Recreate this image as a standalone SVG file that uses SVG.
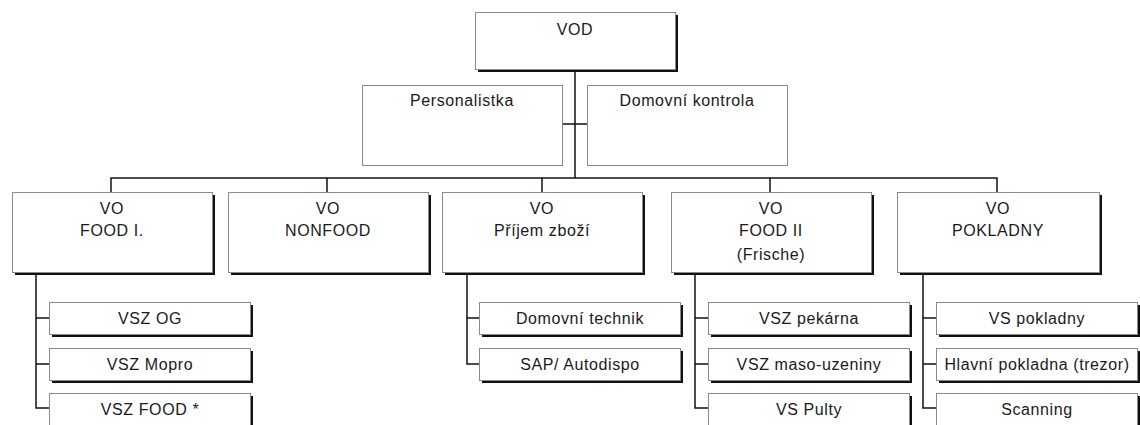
<svg xmlns="http://www.w3.org/2000/svg" width="1140" height="425" viewBox="0 0 1140 425">
<style>
.sh{fill:#111}
.bx{fill:#fff;stroke:#8a8a8a;stroke-width:1}
.t{font-family:"Liberation Sans",Arial,sans-serif;font-size:16px;letter-spacing:0.6px;fill:#1a1a1a;text-anchor:middle}
.c{fill:none;stroke:#111;stroke-width:1.5}
</style>
<rect width="1140" height="425" fill="#fff"/>
<g id="connectors">
<path class="c" d="M575 69V178M562 124H587M111 192V178H997V192M327 178V192M542 178V192M770 178V192"/>
<path class="c" d="M36 272V408H49M36 318H49M36 364H49"/>
<path class="c" d="M467 272V364H479M467 318H479"/>
<path class="c" d="M695 272V408H708M695 318H708M695 364H708"/>
<path class="c" d="M923 272V408H936M923 318H936M923 364H936"/>
</g>
<g id="vod"><rect class="sh" x="478" y="15" width="200" height="57"/><rect class="bx" x="475.5" y="12.5" width="200" height="57"/><text class="t" x="575" y="35">VOD</text></g>
<g id="personalistka"><rect class="bx" x="362.5" y="85.5" width="200" height="80"/><text class="t" x="462" y="106">Personalistka</text></g>
<g id="domovni-kontrola"><rect class="bx" x="587.5" y="85.5" width="200" height="80"/><text class="t" x="687" y="106">Domovní kontrola</text></g>
<g id="vo-food1"><rect class="sh" x="15" y="195" width="200" height="80"/><rect class="bx" x="12.5" y="192.5" width="200" height="80"/><text class="t" x="112" y="214">VO</text><text class="t" x="112" y="236">FOOD I.</text></g>
<g id="vo-nonfood"><rect class="sh" x="231" y="195" width="200" height="80"/><rect class="bx" x="228.5" y="192.5" width="200" height="80"/><text class="t" x="328" y="214">VO</text><text class="t" x="328" y="236">NONFOOD</text></g>
<g id="vo-prijem"><rect class="sh" x="445" y="195" width="200" height="80"/><rect class="bx" x="442.5" y="192.5" width="200" height="80"/><text class="t" x="542" y="214">VO</text><text class="t" x="542" y="236">Příjem zboží</text></g>
<g id="vo-food2"><rect class="sh" x="674" y="195" width="200" height="80"/><rect class="bx" x="671.5" y="192.5" width="200" height="80"/><text class="t" x="771" y="214">VO</text><text class="t" x="771" y="236">FOOD II</text><text class="t" x="771" y="260">(Frische)</text></g>
<g id="vo-pokladny"><rect class="sh" x="900" y="195" width="202" height="80"/><rect class="bx" x="897.5" y="192.5" width="202" height="80"/><text class="t" x="998" y="214">VO</text><text class="t" x="998" y="236">POKLADNY</text></g>
<g id="vsz-og"><rect class="sh" x="52" y="305" width="201" height="32"/><rect class="bx" x="49.5" y="302.5" width="201" height="32"/><text class="t" x="150" y="324">VSZ OG</text></g>
<g id="vsz-mopro"><rect class="sh" x="52" y="351" width="201" height="32"/><rect class="bx" x="49.5" y="348.5" width="201" height="32"/><text class="t" x="150" y="370">VSZ Mopro</text></g>
<g id="vsz-food"><rect class="sh" x="52" y="396" width="201" height="32"/><rect class="bx" x="49.5" y="393.5" width="201" height="32"/><text class="t" x="150" y="415">VSZ FOOD *</text></g>
<g id="domovni-technik"><rect class="sh" x="482" y="305" width="201" height="32"/><rect class="bx" x="479.5" y="302.5" width="201" height="32"/><text class="t" x="580" y="324">Domovní technik</text></g>
<g id="sap-autodispo"><rect class="sh" x="482" y="351" width="201" height="32"/><rect class="bx" x="479.5" y="348.5" width="201" height="32"/><text class="t" x="580" y="370">SAP/ Autodispo</text></g>
<g id="vsz-pekarna"><rect class="sh" x="711" y="305" width="201" height="32"/><rect class="bx" x="708.5" y="302.5" width="201" height="32"/><text class="t" x="809" y="324">VSZ pekárna</text></g>
<g id="vsz-maso"><rect class="sh" x="711" y="351" width="201" height="32"/><rect class="bx" x="708.5" y="348.5" width="201" height="32"/><text class="t" x="809" y="370">VSZ maso-uzeniny</text></g>
<g id="vs-pulty"><rect class="sh" x="711" y="396" width="201" height="32"/><rect class="bx" x="708.5" y="393.5" width="201" height="32"/><text class="t" x="809" y="415">VS Pulty</text></g>
<g id="vs-pokladny"><rect class="sh" x="939" y="305" width="201" height="32"/><rect class="bx" x="936.5" y="302.5" width="201" height="32"/><text class="t" x="1037" y="324">VS pokladny</text></g>
<g id="hlavni-pokladna"><rect class="sh" x="939" y="351" width="201" height="32"/><rect class="bx" x="936.5" y="348.5" width="201" height="32"/><text class="t" x="1037" y="370">Hlavní pokladna (trezor)</text></g>
<g id="scanning"><rect class="sh" x="939" y="396" width="201" height="32"/><rect class="bx" x="936.5" y="393.5" width="201" height="32"/><text class="t" x="1037" y="415">Scanning</text></g>
</svg>
